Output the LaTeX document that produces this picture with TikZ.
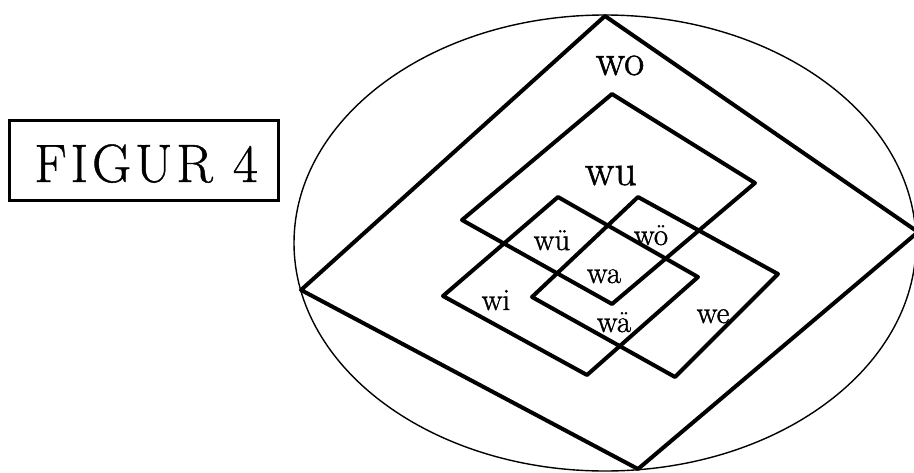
\documentclass[tikz,border=0pt]{standalone}
\usepackage{fontspec}
\newfontfamily\labelfont[FakeBold=1.2]{Latin Modern Roman}
\newfontfamily\titlefont[LetterSpace=7,FakeBold=0.8]{Latin Modern Roman}
\begin{document}
\begin{tikzpicture}[x=1pt,y=-1pt,
  thick line/.style={line width=4pt, line join=round},
  biglabel/.style={anchor=base, inner sep=0pt, font=\labelfont\fontsize{44}{48}\selectfont},
  smalllabel/.style={anchor=base, inner sep=0pt, font=\labelfont\fontsize{31}{34}\selectfont}]
\useasboundingbox (0,0) rectangle (914,472);
% title box
\draw[line width=3pt] (9,120) rectangle (278,200);
\node[anchor=base, inner sep=0pt, font=\titlefont\fontsize{54}{60}\selectfont] (title) at (146,182) {FIGUR 4};
% ellipse
\draw[line width=1.4pt] (605,243) ellipse [x radius=311, y radius=228];
% outer diamond wo
\draw[thick line] (605,16) -- (918,232) -- (638,469) -- (301,290) -- cycle;
% wu diamond
\draw[thick line] (612,94) -- (755,183) -- (612,304) -- (462,220) -- cycle;
% wi diamond
\draw[thick line] (558,197) -- (698,277) -- (587,375) -- (443,296) -- cycle;
% we diamond
\draw[thick line] (638,197) -- (778,274) -- (675,377) -- (532,297) -- cycle;
% labels
\node[biglabel] (wo) at (620,75) {wo};
\node[biglabel] (wu) at (611,185) {wu};
\node[smalllabel] (wue) at (552,250) {wü};
\node[smalllabel] (woe) at (651,245) {wö};
\node[smalllabel] (wa) at (604,283) {wa};
\node[smalllabel] (wi) at (496,310) {wi};
\node[smalllabel] (wae) at (614,332) {wä};
\node[smalllabel] (we) at (713,323) {we};
\end{tikzpicture}
\end{document}
